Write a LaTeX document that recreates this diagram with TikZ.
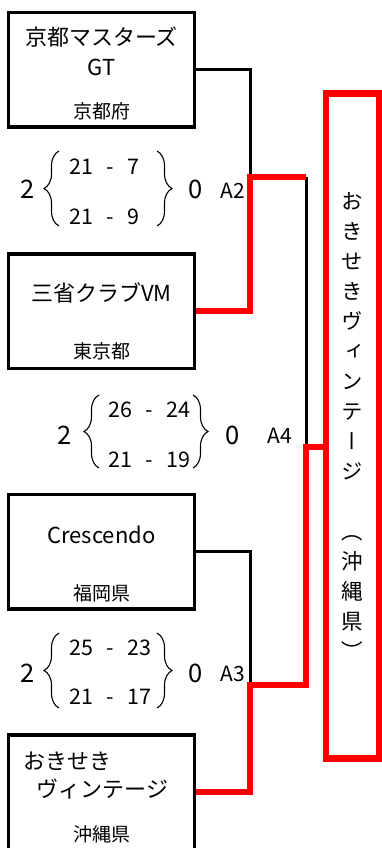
\documentclass[tikz,border=0pt]{standalone}
\usepackage{fontspec}
\setmainfont{Noto Sans CJK JP}
\newfontfamily\vertfont[RawFeature=+vert]{Noto Sans CJK JP}
\usetikzlibrary{decorations.pathreplacing}
\newcommand{\setpts}[2]{\makebox[22pt][r]{#1}\makebox[34pt]{-}\makebox[22pt][l]{#2}}

\begin{document}
\begin{tikzpicture}[x=1pt,y=-1pt,
    teambox/.style={draw,line width=3.5pt,minimum width=186pt,minimum height=114.5pt,inner sep=0pt},
    teamname/.style={font=\fontsize{22}{24}\selectfont,inner sep=0pt},
    prefname/.style={font=\fontsize{19}{21}\selectfont,inner sep=0pt},
    setrow/.style={font=\fontsize{21.5}{23}\selectfont,anchor=west,inner sep=0pt},
    setcount/.style={font=\fontsize{25.5}{27}\selectfont,inner sep=0pt},
    matchid/.style={font=\fontsize{21}{23}\selectfont,inner sep=0pt},
    setbrace/.style={decorate,decoration={brace,amplitude=15pt},line width=1.1pt},
    champbox/.style={draw=red,line width=6.5pt,minimum width=53pt,minimum height=665pt,inner sep=0pt,
        align=center,font=\vertfont\fontsize{21.5}{30}\selectfont},
    loser/.style={line width=3pt},
    winner/.style={red,line width=6.5pt}]
                \useasboundingbox (0,0) rectangle (382,848);

                \node[teambox] (kyoto) at (101.5,70) {};
                \node[teamname] (kyotoname) at (101.5,37.5) {京都マスターズ};
                \node[teamname] (kyotogt) at (101.5,67.5) {GT};
                \node[prefname] (kyotopref) at (101.5,111) {京都府};

                \node[teambox] (sansho) at (101.5,311) {};
                \node[teamname] (sanshoname) at (101.5,293.3) {三省クラブVM};
                \node[prefname] (sanshopref) at (101.5,351) {東京都};

                \node[teambox] (crescendo) at (101.5,551.5) {};
                \node[teamname] (crescendoname) at (101.5,535) {Crescendo};
                \node[prefname] (crescendopref) at (101.5,593.3) {福岡県};

                \node[teambox] (okiseki) at (101.5,792) {};
                \node[teamname] (okisekiname) at (67.5,761.7) {おきせき};
                \node[teamname] (okisekiname2) at (102.5,789) {ヴィンテージ};
                \node[prefname] (okisekipref) at (101.5,834) {沖縄県};

                \node[champbox] (champ) at (352.5,425.8) {お\\き\\せ\\き\\ヴ\\ィ\\ン\\テ\\ー\\ジ\\　\\（\\沖\\縄\\県\\）};

                \node[setcount] (atwowin) at (27.5,189.5) {2};
                \node[setrow] (atwoset1) at (71,166.5) {\setpts{21}{7}};
                \node[setrow] (atwoset2) at (71,217) {\setpts{21}{9}};
                \node[setcount] (atwolose) at (196,189.5) {0};
                \node[matchid] (atwo) at (233,190.5) {A2};
                \draw[setbrace] (59,226) -- (59,151);
                \draw[setbrace] (157,151) -- (157,226);

                \node[setcount] (afourwin) at (65,435) {2};
                \node[setrow] (afourset1) at (110,410) {\setpts{26}{24}};
                \node[setrow] (afourset2) at (110,460) {\setpts{21}{19}};
                \node[setcount] (afourlose) at (232.5,435) {0};
                \node[matchid] (afour) at (280,436) {A4};
                \draw[setbrace] (99,468) -- (99,395);
                \draw[setbrace] (193,395) -- (193,468);

                \node[setcount] (athreewin) at (27.5,673) {2};
                \node[setrow] (athreeset1) at (71,647.5) {\setpts{25}{23}};
                \node[setrow] (athreeset2) at (71,696.5) {\setpts{21}{17}};
                \node[setcount] (athreelose) at (196,673) {0};
                \node[matchid] (athree) at (233,674) {A3};
                \draw[setbrace] (59,708) -- (59,633);
                \draw[setbrace] (157,633) -- (157,708);

                \coordinate (a2) at (250,177);
                \coordinate (a2end) at (306,177);
                \coordinate (a4) at (306,447);
                \coordinate (a3) at (250,685);
                \coordinate (a3end) at (306,685);

                \draw[loser] (kyoto.east) -| (a2);
                \draw[loser] (crescendo.east) -| (a3);
                \draw[loser] (a2end) -- (a4);
                \draw[winner] (sansho.east) -| (a2) -- (a2end);
                \draw[winner] (okiseki.east) -| (a3) -- (a3end) -- (a4) -- (champ.west |- a4);
            \end{tikzpicture}
\end{document}
